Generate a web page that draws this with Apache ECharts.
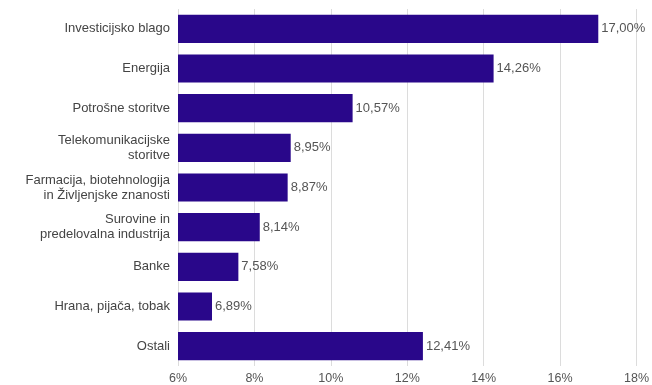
<!DOCTYPE html>
<html>
<head>
<meta charset="utf-8">
<script src="https://cdn.jsdelivr.net/npm/echarts@6/dist/echarts.min.js"></script>
<style>html,body{margin:0;padding:0;background:#fff}#c{width:652px;height:385px}</style>
</head>
<body>
<div id="c"></div>
<script>
const categories = ["Investicijsko blago", "Energija", "Potrošne storitve", "Telekomunikacijske\nstoritve", "Farmacija, biotehnologija\nin Življenjske znanosti", "Surovine in\npredelovalna industrija", "Banke", "Hrana, pijača, tobak", "Ostali"];
const values = [17.00, 14.26, 10.57, 8.95, 8.87, 8.14, 7.58, 6.89, 12.41];
const xTicks = [6, 8, 10, 12, 14, 16, 18];

const chart = echarts.init(document.getElementById('c'), null, {renderer: 'canvas'});
chart.setOption({
  animation: false,
  grid: {left: 178, right: 15, top: 9, bottom: 18, containLabel: false},
  xAxis: {
    type: 'value', min: xTicks[0], max: xTicks[xTicks.length - 1], interval: 2,
    axisLine: {show: false}, axisTick: {show: false},
    splitLine: {show: true, lineStyle: {color: '#dcdcdc', width: 1}},
    axisLabel: {formatter: v => v + '%', color: '#555', fontSize: 12.5, fontFamily: 'Liberation Sans, Arial', margin: 6}
  },
  yAxis: {
    type: 'category', data: categories, inverse: true,
    axisLine: {show: false}, axisTick: {show: false},
    axisLabel: {color: '#444', fontSize: 13, fontFamily: 'Liberation Sans, Arial', margin: 8, lineHeight: 15, align: 'right'}
  },
  series: [{
    type: 'bar', data: values, barCategoryGap: '29%',
    itemStyle: {color: '#29078a'},
    label: {show: true, position: 'right', distance: 3, color: '#555', fontSize: 13, fontFamily: 'Liberation Sans, Arial',
      formatter: p => p.value.toFixed(2).replace('.', ',') + '%'}
  }]
});
</script>
</body>
</html>
